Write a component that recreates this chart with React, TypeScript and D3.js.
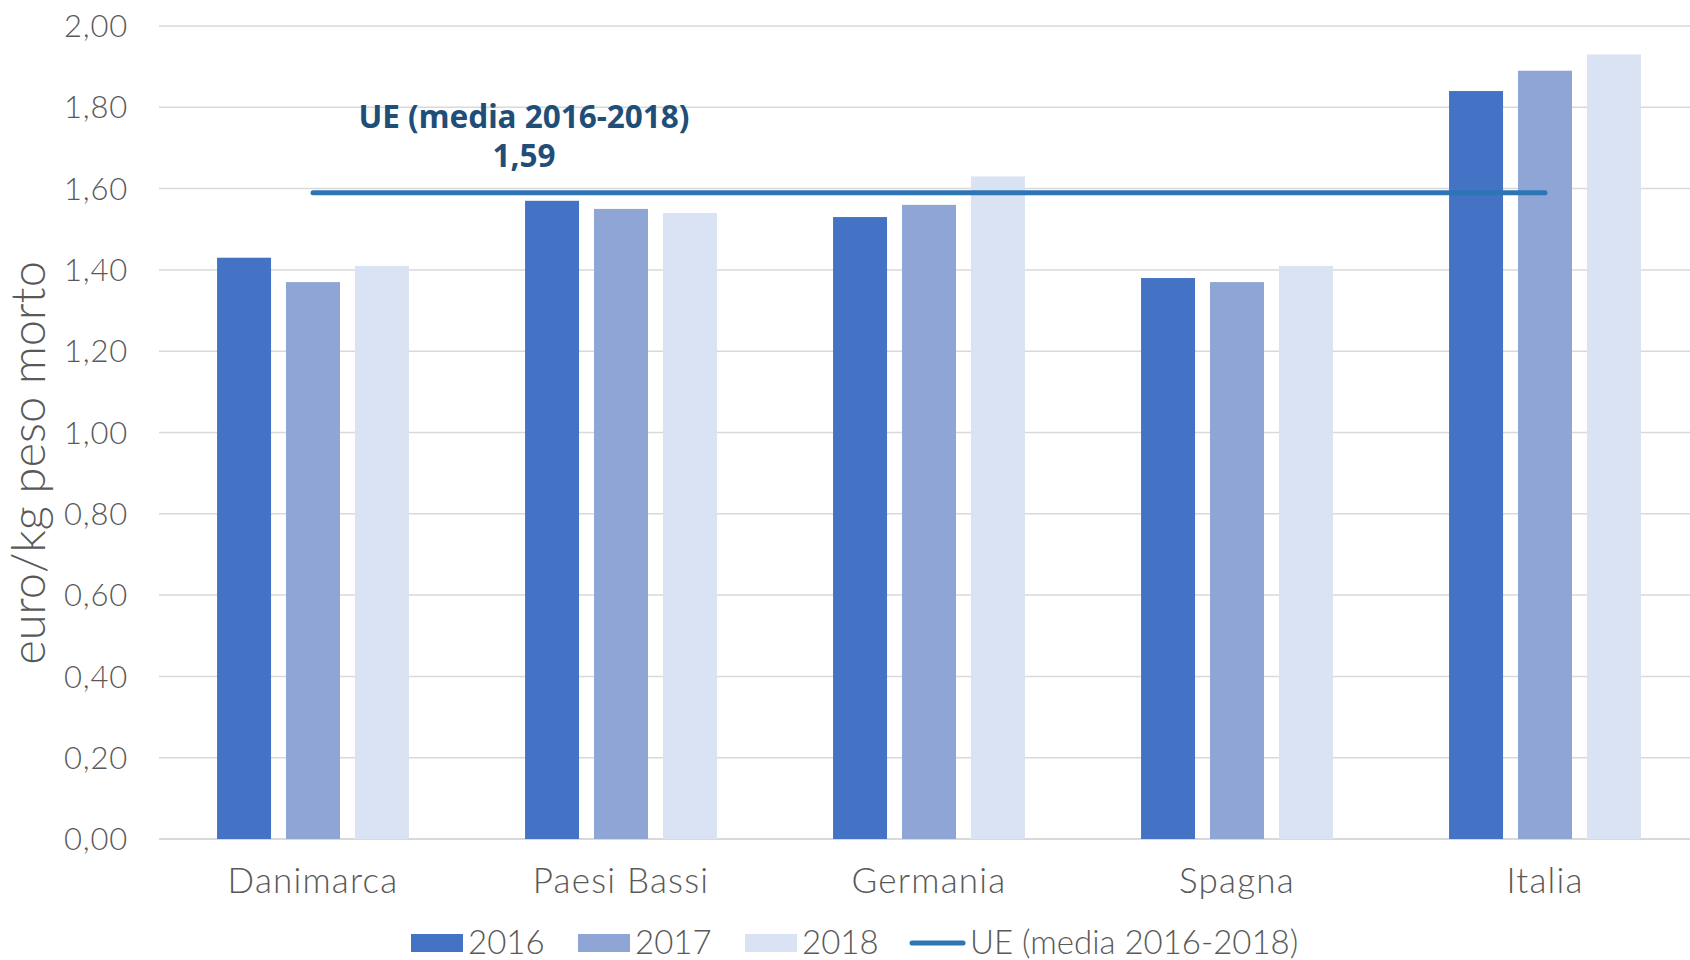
import * as React from 'react';
import * as d3 from 'd3';

const categories = ['Danimarca', 'Paesi Bassi', 'Germania', 'Spagna', 'Italia'];
const years = ['2016', '2017', '2018'];
const values2016 = [1.43, 1.57, 1.53, 1.38, 1.84];
const values2017 = [1.37, 1.55, 1.56, 1.37, 1.89];
const values2018 = [1.41, 1.54, 1.63, 1.41, 1.93];
const euAverage = 1.59;
const euLabel = 'UE (media 2016-2018)';
const yTicks = [0, 0.2, 0.4, 0.6, 0.8, 1.0, 1.2, 1.4, 1.6, 1.8, 2.0];

const seriesValues = [values2016, values2017, values2018];
const colors = ['#4472C4', '#8FA5D5', '#DAE3F3'];

const W = 1690;
const H = 960;
const left = 159;
const right = 1699;
const top = 26;
const bottom = 839;

const locale = d3.formatLocale({decimal: ',', thousands: '.', grouping: [3], currency: ['', '€']});
const fmt = locale.format('.2f');

const textFont = 'Lato, "Open Sans", sans-serif';
const grey = '#595959';

export default function App() {
  const x0 = d3.scaleBand<string>()
    .domain(categories)
    .range([left, right])
    .paddingInner(0.377)
    .paddingOuter(0.1885);

  const x1 = d3.scaleBand<string>()
    .domain(years)
    .range([0, x0.bandwidth()])
    .paddingInner(0.217);

  const y = d3.scaleLinear().domain([0, 2]).range([bottom, top]);

  const center = (c: string) => (x0(c) as number) + x0.bandwidth() / 2;

  // legend layout
  const legend = [
    {x: 411, label: '2016', kind: 'bar', color: colors[0]},
    {x: 578, label: '2017', kind: 'bar', color: colors[1]},
    {x: 745, label: '2018', kind: 'bar', color: colors[2]},
    {x: 910, label: euLabel, kind: 'line', color: '#2E75B6'},
  ];

  const lineX0 = center(categories[0]);
  const lineX1 = center(categories[categories.length - 1]);

  return (
    <svg width={W} height={H} style={{position: 'absolute', left: 0, top: 0, background: '#fff'}}>
      <rect width={W} height={H} fill="#fff"/>

      {/* grid */}
      {yTicks.map(t => (
        <line key={t} x1={left} x2={W} y1={y(t)} y2={y(t)}
              stroke="#D9D9D9" strokeWidth={t === 0 ? 2 : 1.5}/>
      ))}

      {/* tick labels */}
      {yTicks.map(t => (
        <text key={'l' + t} x={128} y={y(t)} dy="0.36em" textAnchor="end"
              fontFamily={textFont} fontWeight={300} fontSize={31} letterSpacing={0.8} fill={grey}>{fmt(t)}</text>
      ))}

      {/* y title */}
      <text transform={`translate(29,463) rotate(-90)`} textAnchor="middle" dy="0.35em"
            fontFamily={textFont} fontWeight={300} fontSize={47} fill={grey}>euro/kg peso morto</text>

      {/* bars */}
      {categories.map((c, i) => (
        <g key={c} transform={`translate(${x0(c)},0)`}>
          {years.map((yr, j) => {
            const v = seriesValues[j][i];
            return (
              <rect key={yr} x={x1(yr)} y={y(v)} width={x1.bandwidth()} height={y(0) - y(v)}
                    fill={colors[j]}/>
            );
          })}
        </g>
      ))}

      {/* category labels */}
      {categories.map(c => (
        <text key={'c' + c} x={center(c)} y={893} textAnchor="middle"
              fontFamily={textFont} fontWeight={300} fontSize={35} letterSpacing={1.2} fill={grey}>{c}</text>
      ))}

      {/* EU average line */}
      <line x1={lineX0} x2={lineX1} y1={y(euAverage)} y2={y(euAverage)}
            stroke="#2E75B6" strokeWidth={5} strokeLinecap="round"/>

      <text x={524} y={128} textAnchor="middle" fontFamily='"Noto Sans", "Open Sans", sans-serif'
            fontWeight="bold" fontSize={31.5} fill="#1F4E79">{euLabel}</text>
      <text x={524} y={167} textAnchor="middle" fontFamily='"Noto Sans", "Open Sans", sans-serif'
            fontWeight="bold" fontSize={31.5} fill="#1F4E79">{fmt(euAverage)}</text>

      {/* legend */}
      {legend.map(l => (
        <g key={l.label} transform={`translate(${l.x},943)`}>
          {l.kind === 'bar'
            ? <rect x={0} y={-9} width={52} height={18} fill={l.color}/>
            : <line x1={2} x2={53} y1={0} y2={0} stroke={l.color} strokeWidth={5} strokeLinecap="round"/>}
          <text x={l.kind === 'bar' ? 57 : 60} y={11} fontFamily={textFont} fontWeight={300} fontSize={33} fill={grey}>{l.label}</text>
        </g>
      ))}
    </svg>
  );
}
